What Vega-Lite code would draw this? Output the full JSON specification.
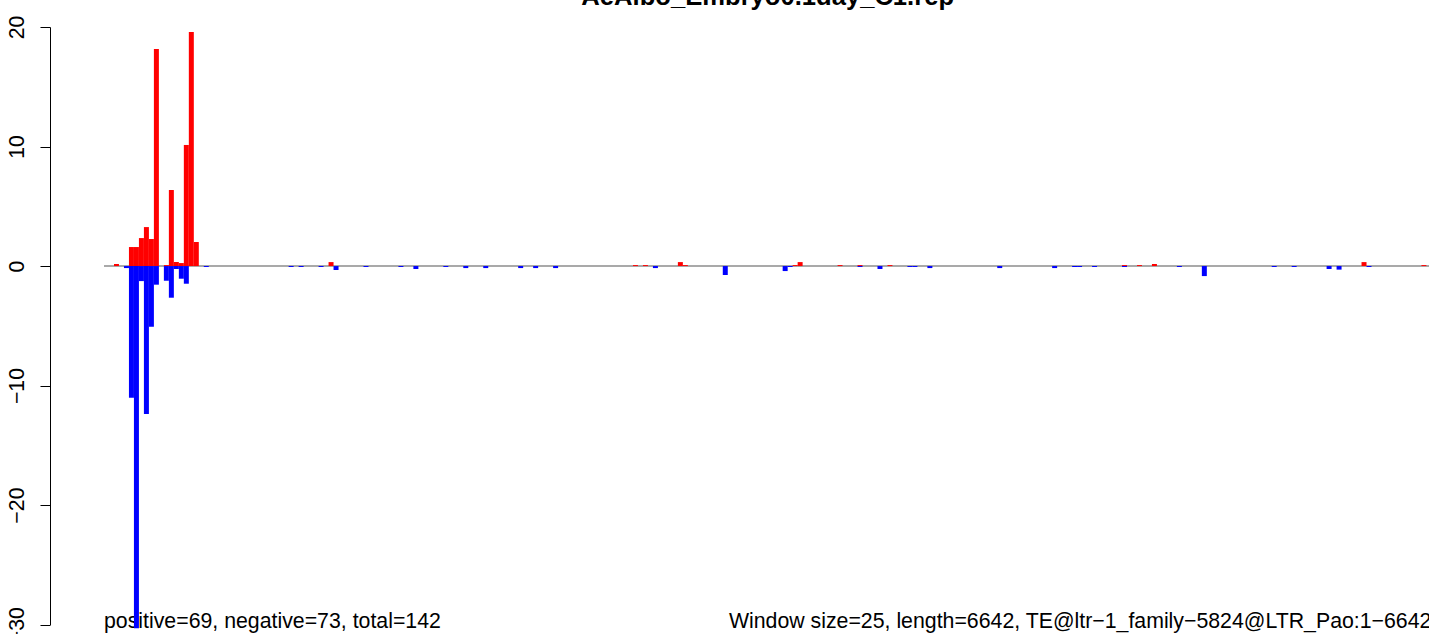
{
  "$schema": "https://vega.github.io/schema/vega-lite/v6.json",
  "width": 1379,
  "height": 597.6,
  "autosize": {"type": "none"},
  "padding": {"left": 50, "top": 27, "right": 0, "bottom": 9.4},
  "background": "white",
  "config": {"view": {"stroke": null}, "font": "Liberation Sans"},
  "datasets": {
    "bars": [
      {"start": 50, "end": 75, "value": 0.17, "strand": "positive"},
      {"start": 125, "end": 150, "value": 1.59, "strand": "positive"},
      {"start": 150, "end": 175, "value": 1.59, "strand": "positive"},
      {"start": 175, "end": 200, "value": 2.34, "strand": "positive"},
      {"start": 200, "end": 225, "value": 3.26, "strand": "positive"},
      {"start": 225, "end": 250, "value": 2.26, "strand": "positive"},
      {"start": 250, "end": 275, "value": 18.16, "strand": "positive"},
      {"start": 300, "end": 325, "value": 0.08, "strand": "positive"},
      {"start": 325, "end": 350, "value": 6.36, "strand": "positive"},
      {"start": 350, "end": 375, "value": 0.33, "strand": "positive"},
      {"start": 375, "end": 400, "value": 0.25, "strand": "positive"},
      {"start": 400, "end": 425, "value": 10.13, "strand": "positive"},
      {"start": 425, "end": 450, "value": 19.58, "strand": "positive"},
      {"start": 450, "end": 475, "value": 2.01, "strand": "positive"},
      {"start": 1125, "end": 1150, "value": 0.33, "strand": "positive"},
      {"start": 2650, "end": 2675, "value": 0.08, "strand": "positive"},
      {"start": 2700, "end": 2725, "value": 0.08, "strand": "positive"},
      {"start": 2875, "end": 2900, "value": 0.33, "strand": "positive"},
      {"start": 2900, "end": 2925, "value": 0.08, "strand": "positive"},
      {"start": 3450, "end": 3475, "value": 0.08, "strand": "positive"},
      {"start": 3475, "end": 3500, "value": 0.33, "strand": "positive"},
      {"start": 3675, "end": 3700, "value": 0.08, "strand": "positive"},
      {"start": 3775, "end": 3800, "value": 0.08, "strand": "positive"},
      {"start": 3925, "end": 3950, "value": 0.08, "strand": "positive"},
      {"start": 5100, "end": 5125, "value": 0.08, "strand": "positive"},
      {"start": 5175, "end": 5200, "value": 0.08, "strand": "positive"},
      {"start": 5250, "end": 5275, "value": 0.17, "strand": "positive"},
      {"start": 6300, "end": 6325, "value": 0.33, "strand": "positive"},
      {"start": 6600, "end": 6625, "value": 0.08, "strand": "positive"},
      {"start": 100, "end": 125, "value": -0.17, "strand": "negative"},
      {"start": 125, "end": 150, "value": -11.02, "strand": "negative"},
      {"start": 150, "end": 175, "value": -30.3, "strand": "negative"},
      {"start": 175, "end": 200, "value": -1.26, "strand": "negative"},
      {"start": 200, "end": 225, "value": -12.38, "strand": "negative"},
      {"start": 225, "end": 250, "value": -5.08, "strand": "negative"},
      {"start": 250, "end": 275, "value": -1.56, "strand": "negative"},
      {"start": 300, "end": 325, "value": -1.23, "strand": "negative"},
      {"start": 325, "end": 350, "value": -2.65, "strand": "negative"},
      {"start": 350, "end": 375, "value": -0.25, "strand": "negative"},
      {"start": 375, "end": 400, "value": -1.06, "strand": "negative"},
      {"start": 400, "end": 425, "value": -1.48, "strand": "negative"},
      {"start": 500, "end": 525, "value": -0.08, "strand": "negative"},
      {"start": 925, "end": 950, "value": -0.08, "strand": "negative"},
      {"start": 975, "end": 1000, "value": -0.08, "strand": "negative"},
      {"start": 1075, "end": 1100, "value": -0.08, "strand": "negative"},
      {"start": 1150, "end": 1175, "value": -0.33, "strand": "negative"},
      {"start": 1300, "end": 1325, "value": -0.08, "strand": "negative"},
      {"start": 1475, "end": 1500, "value": -0.08, "strand": "negative"},
      {"start": 1550, "end": 1575, "value": -0.25, "strand": "negative"},
      {"start": 1700, "end": 1725, "value": -0.08, "strand": "negative"},
      {"start": 1800, "end": 1825, "value": -0.17, "strand": "negative"},
      {"start": 1900, "end": 1925, "value": -0.17, "strand": "negative"},
      {"start": 2075, "end": 2100, "value": -0.17, "strand": "negative"},
      {"start": 2150, "end": 2175, "value": -0.17, "strand": "negative"},
      {"start": 2250, "end": 2275, "value": -0.17, "strand": "negative"},
      {"start": 2750, "end": 2775, "value": -0.17, "strand": "negative"},
      {"start": 3100, "end": 3125, "value": -0.75, "strand": "negative"},
      {"start": 3400, "end": 3425, "value": -0.42, "strand": "negative"},
      {"start": 3425, "end": 3450, "value": -0.08, "strand": "negative"},
      {"start": 3775, "end": 3800, "value": -0.08, "strand": "negative"},
      {"start": 3875, "end": 3900, "value": -0.25, "strand": "negative"},
      {"start": 4025, "end": 4050, "value": -0.08, "strand": "negative"},
      {"start": 4050, "end": 4075, "value": -0.08, "strand": "negative"},
      {"start": 4125, "end": 4150, "value": -0.17, "strand": "negative"},
      {"start": 4475, "end": 4500, "value": -0.17, "strand": "negative"},
      {"start": 4750, "end": 4775, "value": -0.17, "strand": "negative"},
      {"start": 4850, "end": 4875, "value": -0.08, "strand": "negative"},
      {"start": 4875, "end": 4900, "value": -0.08, "strand": "negative"},
      {"start": 4950, "end": 4975, "value": -0.08, "strand": "negative"},
      {"start": 5100, "end": 5125, "value": -0.08, "strand": "negative"},
      {"start": 5375, "end": 5400, "value": -0.08, "strand": "negative"},
      {"start": 5500, "end": 5525, "value": -0.84, "strand": "negative"},
      {"start": 5850, "end": 5875, "value": -0.08, "strand": "negative"},
      {"start": 5950, "end": 5975, "value": -0.08, "strand": "negative"},
      {"start": 6125, "end": 6150, "value": -0.25, "strand": "negative"},
      {"start": 6175, "end": 6200, "value": -0.3, "strand": "negative"},
      {"start": 6325, "end": 6350, "value": -0.08, "strand": "negative"}
    ]
  },
  "layer": [
    {
      "data": {"values": [{"label": "positive=69, negative=73, total=142"}]},
      "mark": {"type": "text", "align": "left", "baseline": "alphabetic", "fontSize": 21.3, "color": "black"},
      "encoding": {
        "x": {"datum": 0, "type": "quantitative", "scale": {"domain": [-270.5, 6638], "nice": false, "zero": false}, "axis": null},
        "y": {"datum": -30.29, "type": "quantitative"},
        "text": {"field": "label"}
      }
    },
    {
      "data": {"values": [{"label": "Window size=25, length=6642, TE@ltr−1_family−5824@LTR_Pao:1−6642"}]},
      "mark": {"type": "text", "align": "right", "baseline": "alphabetic", "fontSize": 21.3, "color": "black"},
      "encoding": {
        "x": {"datum": 6650, "type": "quantitative"},
        "y": {"datum": -30.29, "type": "quantitative"},
        "text": {"field": "label"}
      }
    },
    {
      "data": {"values": [{"label": "AeAlbo_Embryo0.1day_C1.rep"}]},
      "mark": {"type": "text", "align": "center", "baseline": "alphabetic", "fontSize": 25.6, "fontWeight": "bold", "color": "black"},
      "encoding": {
        "x": {"datum": 3325, "type": "quantitative"},
        "y": {"datum": 21.84, "type": "quantitative"},
        "text": {"field": "label"}
      }
    },
    {
      "data": {"values": [{"from": 0, "to": 6650, "level": 0}]},
      "mark": {"type": "rule", "color": "#8c8c8c", "strokeWidth": 1.5},
      "encoding": {
        "x": {"field": "from", "type": "quantitative"},
        "x2": {"field": "to"},
        "y": {"field": "level", "type": "quantitative"}
      }
    },
    {
      "data": {"name": "bars"},
      "mark": {"type": "bar", "stroke": null},
      "encoding": {
        "x": {"field": "start", "type": "quantitative"},
        "x2": {"field": "end"},
        "y": {
          "field": "value",
          "type": "quantitative",
          "scale": {"domain": [-30, 20], "nice": false, "zero": false},
          "axis": {
            "values": [-30, -20, -10, 0, 10, 20],
            "title": null,
            "grid": false,
            "labelAngle": -90,
            "labelAlign": "center",
            "labelBaseline": "alphabetic",
            "labelPadding": 17,
            "labelFontSize": 21.3,
            "labelColor": "black",
            "labelFont": "Liberation Sans",
            "tickSize": 10,
            "tickColor": "black",
            "domainColor": "black",
            "tickWidth": 1,
            "domainWidth": 1,
            "labelOverlap": false,
            "labelBound": false,
            "labelFlush": false
          }
        },
        "y2": {"datum": 0},
        "color": {
          "field": "strand",
          "type": "nominal",
          "scale": {"domain": ["positive", "negative"], "range": ["#ff0000", "#0000ff"]},
          "legend": null
        }
      }
    }
  ]
}
